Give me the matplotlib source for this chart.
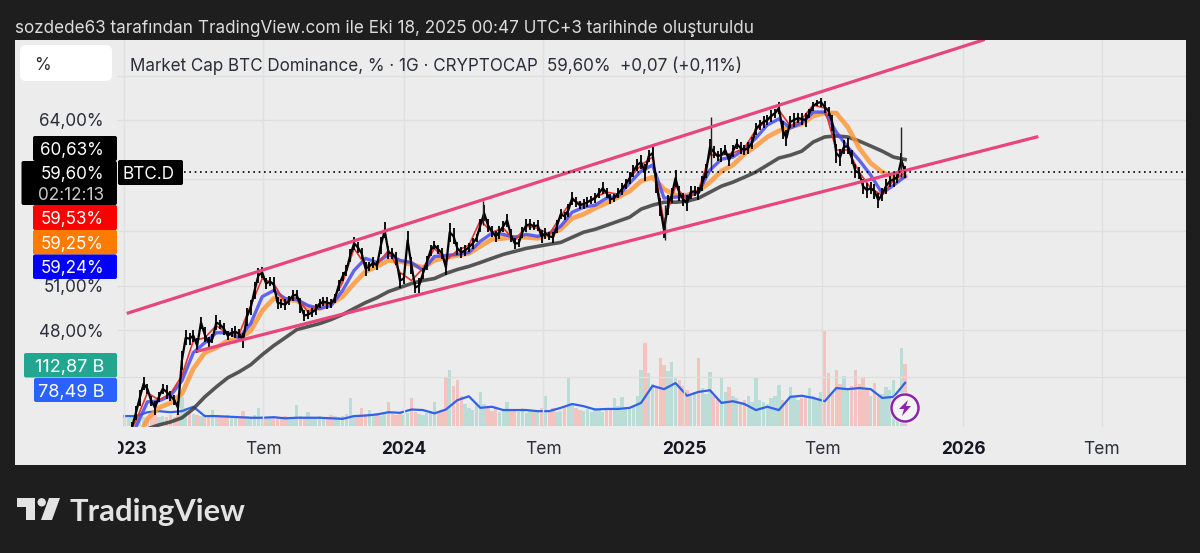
import numpy as np
import pandas as pd
import matplotlib
matplotlib.use('Agg')
import matplotlib.pyplot as plt
from matplotlib.patches import FancyBboxPatch, Polygon, Circle
from matplotlib.ticker import NullLocator
from matplotlib.transforms import Bbox, TransformedBbox, blended_transform_factory

plt.rcParams['font.family'] = ['Inter', 'DejaVu Sans']

# closes every 5 days, from 2023-01-01
closes = [
    41.25, 41.48, 42.05, 42.87, 43.76, 44.61, 44.30, 43.58, 43.17, 43.82,
    44.30, 44.12, 43.88, 43.64, 43.17, 46.04, 47.51, 47.45, 47.64, 47.00,
    48.51, 47.71, 47.19, 47.45, 48.51, 48.37, 48.10, 47.64, 47.84, 47.90,
    47.77, 47.32, 48.91, 49.51, 50.68, 51.74, 51.95, 51.17, 51.31, 51.10,
    49.85, 49.78, 49.72, 49.99, 50.33, 50.40, 49.65, 48.98, 49.04, 49.18,
    49.38, 49.78, 49.92, 49.85, 49.78, 50.13, 51.03, 51.67, 52.09, 53.17,
    54.06, 53.76, 53.32, 52.23, 52.38, 52.66, 52.45, 53.91, 55.04, 53.39,
    53.32, 52.96, 51.38, 51.52, 54.28, 52.45, 50.89, 51.03, 51.88, 52.66,
    53.54, 53.91, 53.61, 53.32, 52.30, 54.89, 54.58, 53.69, 53.39, 53.54,
    53.76, 54.06, 54.43, 55.41, 56.34, 55.41, 54.96, 54.58, 54.89, 55.34,
    55.79, 54.66, 54.06, 54.06, 54.89, 55.41, 55.49, 55.34, 55.41, 54.58,
    54.81, 54.58, 54.51, 55.34, 56.26, 56.10, 56.57, 57.51, 57.19, 56.96,
    57.04, 57.19, 57.35, 57.51, 57.90, 58.30, 57.90, 57.43, 57.51, 57.90,
    58.22, 58.62, 59.10, 59.68, 60.17, 60.42, 59.60, 60.91, 61.16, 58.70,
    56.80, 55.04, 56.96, 57.74, 59.10, 57.90, 57.43, 57.12, 57.98, 58.06,
    57.90, 58.70, 59.68, 61.67, 61.25, 60.91, 61.00, 61.42, 60.58, 61.33,
    61.93, 61.59, 61.42, 61.59, 62.01, 63.22, 63.57, 63.83, 64.00, 64.35,
    64.61, 65.05, 63.13, 62.44, 63.83, 64.00, 64.17, 64.09, 64.00, 64.61,
    65.23, 65.50, 65.59, 65.14, 64.79, 63.74, 61.16, 60.83, 61.67, 61.76,
    60.83, 59.68, 59.52, 58.46, 58.14, 58.30, 58.06, 57.35, 57.82, 58.46,
    58.86, 59.02, 59.18, 60.58, 59.60,
]

# rough high-low swing around each close
swings = [
    0.1, 0.2, 0.3, 0.4, 0.5, 0.4, 0.3, 0.3, 0.4, 0.3,
    0.3, 0.4, 0.3, 0.3, 0.4, 0.6, 0.5, 0.4, 0.4, 0.5,
    0.4, 0.5, 0.4, 0.3, 0.5, 0.3, 0.4, 0.3, 0.3, 0.4,
    0.3, 0.5, 0.6, 0.5, 0.6, 0.5, 0.4, 0.4, 0.3, 0.5,
    0.4, 0.3, 0.4, 0.3, 0.4, 0.3, 0.5, 0.4, 0.3, 0.3,
    0.4, 0.3, 0.3, 0.4, 0.3, 0.3, 0.4, 0.3, 0.4, 0.5,
    0.5, 0.4, 0.4, 0.5, 0.3, 0.4, 0.3, 0.6, 0.6, 0.5,
    0.4, 0.5, 0.5, 0.4, 0.7, 0.6, 0.4, 0.5, 0.4, 0.5,
    0.4, 0.3, 0.3, 0.4, 0.5, 0.7, 0.6, 0.5, 0.4, 0.4,
    0.3, 0.4, 0.3, 0.5, 0.6, 0.5, 0.4, 0.4, 0.5, 0.4,
    0.5, 0.5, 0.4, 0.3, 0.4, 0.5, 0.4, 0.3, 0.4, 0.5,
    0.4, 0.3, 0.4, 0.5, 0.4, 0.3, 0.5, 0.5, 0.4, 0.3,
    0.4, 0.4, 0.3, 0.4, 0.4, 0.5, 0.4, 0.4, 0.3, 0.4,
    0.5, 0.4, 0.5, 0.5, 0.5, 0.6, 0.7, 0.5, 0.6, 0.8,
    0.7, 0.6, 0.8, 0.6, 0.7, 0.6, 0.5, 0.6, 0.5, 0.4,
    0.5, 0.6, 0.6, 0.7, 0.5, 0.4, 0.6, 0.4, 0.5, 0.5,
    0.4, 0.5, 0.4, 0.5, 0.5, 0.5, 0.4, 0.5, 0.4, 0.5,
    0.4, 0.5, 0.8, 0.7, 0.5, 0.6, 0.4, 0.5, 0.6, 0.4,
    0.4, 0.3, 0.4, 0.5, 0.4, 0.7, 0.8, 0.7, 0.6, 0.7,
    0.6, 0.6, 0.5, 0.6, 0.6, 0.5, 0.6, 0.6, 0.5, 0.6,
    0.5, 0.6, 0.5, 0.6, 0.5,
]

# volume in billions, same dates as closes
volumes = [
    16, 15, 18, 13, 20, 16, 15, 18, 20, 16,
    18, 16, 20, 16, 22, 53, 33, 25, 22, 20,
    18, 16, 20, 29, 18, 16, 16, 20, 15, 18,
    16, 27, 18, 15, 20, 33, 18, 16, 15, 18,
    16, 15, 18, 15, 16, 38, 18, 16, 25, 15,
    16, 18, 15, 16, 20, 18, 16, 18, 22, 51,
    20, 18, 33, 22, 29, 20, 24, 18, 22, 44,
    22, 20, 25, 20, 24, 51, 25, 22, 20, 24,
    27, 44, 25, 29, 89, 102, 73, 84, 55, 40,
    33, 29, 40, 62, 40, 36, 27, 33, 25, 29,
    44, 29, 27, 25, 33, 24, 27, 25, 29, 33,
    55, 29, 33, 25, 27, 36, 87, 40, 33, 29,
    27, 31, 25, 33, 29, 25, 33, 31, 51, 36,
    53, 35, 33, 36, 55, 102, 151, 96, 76, 69,
    124, 111, 100, 116, 87, 84, 73, 65, 55, 62,
    124, 69, 58, 98, 55, 51, 87, 62, 71, 55,
    51, 44, 47, 55, 44, 89, 47, 44, 40, 51,
    55, 75, 47, 44, 71, 55, 47, 51, 55, 69,
    55, 51, 62, 175, 96, 62, 102, 76, 91, 65,
    73, 102, 76, 87, 69, 55, 78, 55, 58, 71,
    65, 84, 55, 142, 112.87,
]

# averages every 15 days, from 2023-01-01
ma_red = [
    41.25, 42.40, 44.06, 43.64, 44.00, 45.10, 47.32, 47.51, 48.30, 47.77,
    47.77, 49.65, 51.52, 51.17, 49.85, 50.26, 49.18, 49.78, 49.78, 51.24,
    53.69, 52.45, 52.52, 53.54, 51.95, 51.38, 52.23, 53.69, 52.81, 53.54,
    53.91, 55.79, 54.89, 55.19, 54.28, 55.34, 55.19, 54.73, 56.10, 57.35,
    57.04, 57.59, 57.98, 57.82, 59.10, 60.17, 60.83, 55.64, 58.46, 57.35,
    58.14, 61.00, 61.00, 61.16, 61.59, 63.13, 64.00, 64.88, 63.48, 64.09,
    65.32, 65.05, 61.42, 61.42, 59.60, 58.30, 57.74, 58.94, 59.53,
]
ma_blue = [
    40.69, 42.05, 43.52, 43.58, 43.88, 44.79, 46.55, 47.19, 47.84, 47.84,
    47.51, 48.44, 50.26, 50.68, 50.13, 50.06, 49.65, 49.45, 49.65, 50.68,
    52.09, 52.96, 52.66, 53.25, 52.81, 52.66, 52.09, 53.10, 53.17, 53.25,
    53.39, 54.21, 54.81, 54.73, 54.51, 54.73, 54.58, 54.81, 55.34, 56.41,
    56.80, 56.96, 57.51, 57.66, 58.70, 59.68, 60.17, 57.51, 57.59, 57.66,
    57.98, 59.76, 60.66, 60.83, 61.50, 62.44, 63.57, 64.09, 63.30, 63.74,
    64.70, 64.70, 62.96, 61.67, 60.58, 59.35, 57.90, 58.54, 59.24,
]
ma_orange = [
    40.13, 41.14, 42.52, 43.17, 43.46, 44.00, 45.54, 46.55, 46.87, 47.32,
    47.45, 47.97, 49.31, 50.13, 50.06, 49.99, 49.51, 49.45, 49.78, 50.26,
    51.17, 52.02, 52.38, 52.81, 52.74, 52.52, 52.30, 52.81, 53.03, 53.17,
    53.32, 53.84, 54.36, 54.43, 54.51, 54.51, 54.43, 54.73, 55.11, 55.95,
    56.26, 56.73, 57.12, 57.59, 58.06, 58.86, 59.18, 58.22, 57.74, 57.74,
    58.06, 58.78, 59.68, 60.17, 61.08, 61.76, 62.53, 63.05, 63.39, 63.65,
    64.35, 64.61, 64.61, 63.39, 61.59, 60.33, 59.60, 59.18, 59.25,
]
ma_gray = [
    40.69, 41.25, 41.94, 42.17, 42.34, 42.58, 43.11, 43.82, 44.42, 44.98,
    45.35, 45.79, 46.42, 47.00, 47.51, 48.04, 48.24, 48.44, 48.71, 49.04,
    49.45, 49.85, 50.19, 50.61, 50.89, 51.17, 51.38, 51.52, 51.88, 52.16,
    52.38, 52.66, 52.96, 53.25, 53.47, 53.69, 53.84, 53.99, 54.13, 54.51,
    54.89, 55.11, 55.41, 55.72, 56.03, 56.65, 56.96, 57.19, 57.19, 57.27,
    57.51, 57.98, 58.46, 58.78, 59.18, 59.60, 60.17, 60.75, 60.99, 61.33,
    62.10, 62.53, 62.62, 62.53, 62.18, 61.76, 61.33, 60.83, 60.63,
]
vol_ma = [
    18, 18, 25, 27, 25, 27, 35, 18, 18, 17,
    16, 15, 15, 16, 14, 15, 15, 15, 14, 13,
    18, 19, 21, 25, 24, 30, 29, 23, 30, 47,
    54, 33, 35, 29, 29, 29, 27, 27, 33, 40,
    36, 30, 31, 31, 33, 42, 73, 67, 78, 55,
    62, 65, 42, 45, 40, 29, 35, 29, 53, 55,
    51, 45, 69, 67, 69, 67, 51, 53, 78.49,
]

# big wicks
wick_dates = ['2024-04-13', '2024-12-07', '2025-02-05', '2025-10-12']
wick_low = [55.4, 54.3, 59.7, 59.2]
wick_high = [57.3, 57.0, 64.3, 63.4]

# channel drawn by hand on the chart
upper_dates = ['2023-01-06', '2026-01-27']
upper_vals = [49.15, 71.4]
lower_dates = ['2023-04-07', '2026-04-07']
lower_vals = [46.65, 62.53]

grid_ticks = [68, 64, 59, 55, 51, 48, 45]
shown_ticks = [64, 51, 48]
time_ticks = ['2023-01-01', '2023-07-01', '2024-01-01', '2024-07-01', '2025-01-01',
              '2025-07-01', '2026-01-01', '2026-07-01']
time_labels = ['2023', 'Tem', '2024', 'Tem', '2025', 'Tem', '2026', 'Tem']

dates_5 = pd.date_range('2023-01-01', periods=len(closes), freq='5D')
dates_15 = pd.date_range('2023-01-01', periods=len(ma_blue), freq='15D')
x_start = pd.Timestamp('2022-08-11')
x_end = pd.Timestamp('2026-10-19')
grid_from = pd.Timestamp('2022-12-22')

W, H = 1200, 553
DARK = '#1e1e1e'
TXT = '#2a2e39'
VA = 'center_baseline'


def rect(x0, y0, x1, y1):
    return [x0 / W, 1 - y1 / H, (x1 - x0) / W, (y1 - y0) / H]


fig = plt.figure(figsize=(12, 5.53), dpi=100, facecolor=DARK)

# overlay in pixels for labels and boxes
ov = fig.add_axes([0, 0, 1, 1], zorder=5)
ov.set_xlim(0, W)
ov.set_ylim(H, 0)
ov.axis('off')

panel = fig.add_axes(rect(15, 40, 1186, 465), zorder=0, facecolor='#ececec')
panel.set_xticks([])
panel.set_yticks([])
for s in panel.spines.values():
    s.set_visible(False)

# volume pane
ax_v = fig.add_axes(rect(15, 40, 1186, 426), zorder=1, facecolor='none')
up = np.diff(closes, prepend=closes[0]) >= 0
ax_v.bar(dates_5, volumes, width=4.4, color=np.where(up, '#bcdcd7', '#f3c3c0'), linewidth=0)
ax_v.plot(dates_15, vol_ma, color='#2f62e6', lw=1.6, solid_joinstyle='round')
ax_v.set_xlim(x_start, x_end)
ax_v.set_ylim(0, 386 / 0.55)
ax_v.axis('off')

# price pane
ax = fig.add_axes(rect(15, 40, 1186, 427), zorder=2, facecolor='none')
ax.set_yscale('log')
ax.set_xlim(x_start, x_end)
ax.set_ylim(42.05, 71.4)
ax.yaxis.set_major_locator(NullLocator())
ax.yaxis.set_minor_locator(NullLocator())
for s in ax.spines.values():
    s.set_visible(False)

ax.hlines(grid_ticks, grid_from, x_end, color='#dfdfdf', lw=1, zorder=0)
ax.set_xticks(pd.to_datetime(time_ticks))
ax.set_xticklabels(time_labels)
ax.grid(axis='x', color='#dfdfdf', lw=1)
ax.set_axisbelow(True)
ax.tick_params(axis='x', length=0, pad=10, labelsize=12.5, labelcolor=TXT)
for lab, txt in zip(ax.get_xticklabels(), time_labels):
    if txt != 'Tem':
        lab.set_fontweight('bold')
        lab.set_color('#131722')
# 2023 is cut off by the price scale
clip = TransformedBbox(Bbox([[118, 400], [1186, 465]]), ov.transData)
first = ax.get_xticklabels()[0]
first.set_clip_box(clip)
first.set_clip_on(True)

ax.plot(dates_15, ma_gray, color='#3a3a3a', alpha=0.85, lw=2.6, zorder=3)
ax.plot(dates_15, ma_orange, color='#ff9430', alpha=0.8, lw=3.4, zorder=3)
ax.plot(dates_15, ma_blue, color='#4a4af0', alpha=0.85, lw=2.4, zorder=4)
ax.plot(dates_15, ma_red, color='#e5342e', lw=1.2, zorder=4)
ax.plot(dates_5, closes, color='black', lw=1.6, zorder=5)
c = np.array(closes)
s = np.array(swings)
ax.vlines(dates_5, c - s, c + s, color='black', lw=1.3, zorder=5)
ax.vlines(pd.to_datetime(wick_dates), wick_low, wick_high, color='#222222', lw=1, zorder=5)
ax.plot(pd.to_datetime(upper_dates), upper_vals, color='#e8457c', lw=2.3, zorder=6)
ax.plot(pd.to_datetime(lower_dates), lower_vals, color='#e8457c', lw=2.3, zorder=6)
ax.hlines(closes[-1], pd.Timestamp('2022-11-15'), x_end, color='black', lw=1.2,
          linestyles=(0, (1, 2.2)), zorder=6)

tr = blended_transform_factory(ov.transData, ax.transData)
for v in shown_ticks:
    ax.text(104, v, f'{v},00%', transform=tr, ha='right', va=VA, fontsize=12.3,
            color=TXT, clip_on=False)


def tag(x0, y0, x1, y1, color, text, x_text=104, y_text=None, col='white', size=12.3):
    ov.add_patch(FancyBboxPatch((x0 + 1, y0 + 1), x1 - x0 - 2, y1 - y0 - 2,
                                boxstyle='round,pad=1,rounding_size=2',
                                fc=color, ec='none'))
    if y_text is None:
        y_text = (y0 + y1) / 2
    ov.text(x_text, y_text, text, ha='right', va=VA, color=col, fontsize=size)


tag(33, 136, 117, 161, 'black', '60,63%')
tag(21.5, 161, 117, 205, 'black', '59,60%', y_text=172.5)
ov.text(104, 193, '02:12:13', ha='right', va=VA, color='#c9c9c9', fontsize=12.3)
tag(118, 160, 183, 185, 'black', 'BTC.D', x_text=175, size=12.3)
tag(33, 205, 117, 230, '#fb0000', '59,53%')
tag(33, 230, 117, 254.5, '#ff7a00', '59,25%')
tag(33, 254.5, 117, 279, '#0000fb', '59,24%')
tag(24, 353, 117, 377.5, '#22a68f', '112,87 B', size=13)
tag(34, 378, 117, 402, '#2962ff', '78,49 B', size=13)

# header and legend
ov.text(15, 26.5, 'sozdede63 tarafından TradingView.com ile Eki 18, 2025 00:47 UTC+3 tarihinde oluşturuldu',
        color='#dcdcdc', fontsize=12.33, va=VA, ha='left')
ov.add_patch(FancyBboxPatch((24, 49), 84, 28, boxstyle='round,pad=4,rounding_size=6',
                            fc='white', ec='none'))
ov.text(34, 63.5, '%', color=TXT, fontsize=12.3, va=VA, ha='left')
ov.text(130, 64.5, 'Market Cap BTC Dominance, % · 1G · CRYPTOCAP', color=TXT, fontsize=12.25,
        va=VA, ha='left')
ov.text(742, 64.5, '59,60%  +0,07 (+0,11%)', color=TXT, fontsize=12.25, va=VA, ha='right')

# lightning badge
ov.add_patch(Circle((905, 408), 15.5, fc='#f4f4f4', ec='none'))
ov.add_patch(Circle((905, 408), 13.5, fc='#f4f4f4', ec='#8e24aa', lw=1.8))
ov.add_patch(Polygon([(908, 400), (899, 409), (904, 409), (902, 416), (911, 406), (906, 406)],
                     closed=True, fc='#8e24aa', ec='none'))

# footer logo
ov.add_patch(Polygon([(17, 498), (35, 498), (35, 520), (26, 520), (26, 507), (17, 507)],
                     closed=True, fc='#e3e3e3', ec='none'))
ov.add_patch(Circle((41.7, 502.3), 4.2, fc='#e3e3e3', ec='none'))
ov.add_patch(Polygon([(49, 498), (60, 498), (52, 520), (41, 520)], closed=True, fc='#e3e3e3', ec='none'))
ov.text(70, 510, 'TradingView', color='#e3e3e3', fontsize=22.2, fontweight='bold', va=VA, ha='left',
        family=['Lato', 'DejaVu Sans'])

fig.savefig('out.png', dpi=100, facecolor=DARK)
